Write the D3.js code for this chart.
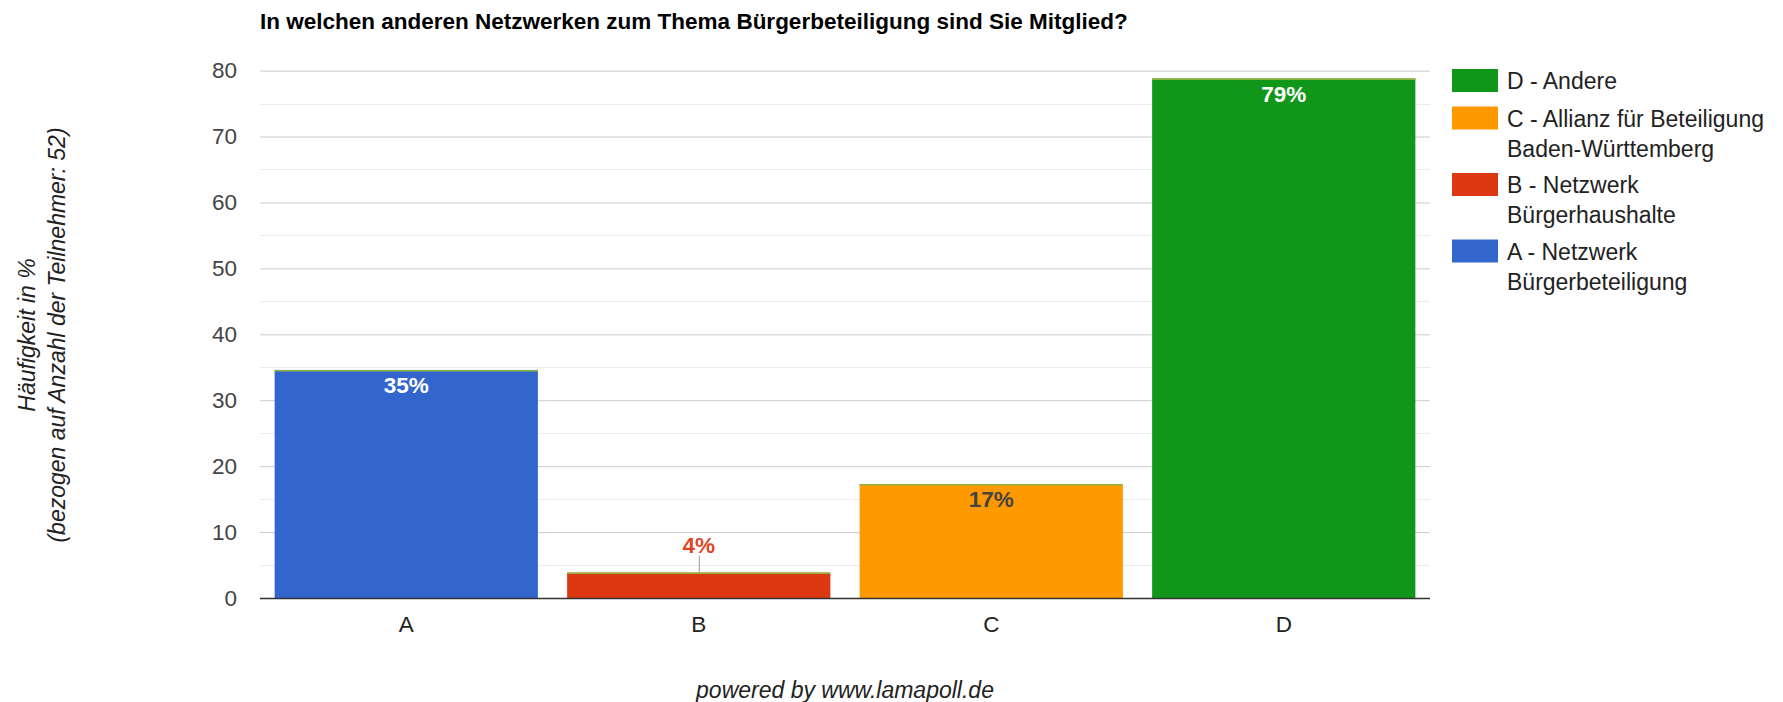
<!DOCTYPE html>
<html>
<head>
<meta charset="utf-8">
<script src="https://cdn.jsdelivr.net/npm/d3@7"></script>
<style>
  body { margin: 0; background: #fff; }
  svg { display: block; font-family: "Liberation Sans", Arial, sans-serif; }
</style>
</head>
<body>
<svg id="chart"></svg>
<script>
// Data (52 participants)
const categories = ['A', 'B', 'C', 'D'];
const values = [34.6, 3.85, 17.3, 78.8];
const valueLabels = ['35%', '4%', '17%', '79%'];
const legendLines = [
  ['A - Netzwerk', 'Bürgerbeteiligung'],
  ['B - Netzwerk', 'Bürgerhaushalte'],
  ['C - Allianz für Beteiligung', 'Baden-Württemberg'],
  ['D - Andere']
];
const colors = ['#3366cc', '#dc3912', '#ff9900', '#109618'];
const yTicks = [0, 10, 20, 30, 40, 50, 60, 70, 80];

const width = 1783, height = 702;
const margin = { top: 70.6, right: 353, bottom: 104, left: 260 };
const fontSize = 23;

const svg = d3.select('#chart')
  .attr('width', width)
  .attr('height', height)
  .attr('viewBox', [0, 0, width, height]);

const x = d3.scaleBand(categories, [margin.left, width - margin.right]).padding(0.1).paddingOuter(0.05);
const y = d3.scaleLinear([0, 80], [height - margin.bottom, margin.top]);

// Title
svg.append('text')
  .attr('x', 260)
  .attr('y', 29)
  .attr('font-size', 22.5)
  .attr('font-weight', 'bold')
  .attr('fill', '#000')
  .text('In welchen anderen Netzwerken zum Thema Bürgerbeteiligung sind Sie Mitglied?');

// Minor gridlines
svg.append('g')
  .selectAll('line')
  .data(d3.range(5, 80, 10))
  .join('line')
    .attr('x1', margin.left)
    .attr('x2', width - margin.right)
    .attr('y1', d => Math.round(y(d)) + 0.5)
    .attr('y2', d => Math.round(y(d)) + 0.5)
    .attr('stroke', '#ebebeb');

// Major gridlines + tick labels
const yAxis = svg.append('g')
  .attr('transform', `translate(${margin.left},0)`)
  .call(d3.axisLeft(y).tickValues(yTicks).tickSize(-(width - margin.left - margin.right)).tickPadding(23));
yAxis.select('.domain').remove();
yAxis.selectAll('.tick line').attr('stroke', '#cccccc');
yAxis.selectAll('.tick text')
  .attr('font-size', 22.5)
  .attr('fill', '#444')
  .attr('font-family', '"Liberation Sans", Arial, sans-serif');

// Bars
svg.append('g')
  .selectAll('rect')
  .data(categories)
  .join('rect')
    .attr('x', d => x(d))
    .attr('y', (d, i) => y(values[i]))
    .attr('width', x.bandwidth())
    .attr('height', (d, i) => y(0) - y(values[i]))
    .attr('fill', (d, i) => colors[i]);

// thin top edge (stacked zero series in original)
svg.append('g')
  .selectAll('line')
  .data(categories)
  .join('line')
    .attr('x1', d => x(d))
    .attr('x2', d => x(d) + x.bandwidth())
    .attr('y1', (d, i) => y(values[i]) + 0.75)
    .attr('y2', (d, i) => y(values[i]) + 0.75)
    .attr('stroke', '#8db33a')
    .attr('stroke-width', 1.5);

// Baseline
svg.append('line')
  .attr('x1', margin.left)
  .attr('x2', width - margin.right)
  .attr('y1', y(0) + 0.5)
  .attr('y2', y(0) + 0.5)
  .attr('stroke', '#333')
  .attr('stroke-width', 1.5);

// Value labels
const labelCfg = [
  { inside: true, fill: '#ffffff' },
  { inside: false, fill: '#e0452a' },
  { inside: true, fill: '#444444' },
  { inside: true, fill: '#ffffff' }
];
const lbl = svg.append('g');
categories.forEach((c, i) => {
  const cx = x(c) + x.bandwidth() / 2;
  const top = y(values[i]);
  const cfg = labelCfg[i];
  if (!cfg.inside) {
    lbl.append('line')
      .attr('x1', cx + 0.5).attr('x2', cx + 0.5)
      .attr('y1', top - 17).attr('y2', top)
      .attr('stroke', '#999');
  }
  lbl.append('text')
    .attr('x', cx)
    .attr('y', cfg.inside ? top + 23 : top - 20)
    .attr('text-anchor', 'middle')
    .attr('font-size', 22.5)
    .attr('font-weight', 'bold')
    .attr('fill', cfg.fill)
    .text(valueLabels[i]);
});

// X axis labels
const xAxis = svg.append('g')
  .attr('transform', `translate(0,${y(0)})`)
  .call(d3.axisBottom(x).tickSize(0).tickPadding(18));
xAxis.select('.domain').remove();
xAxis.selectAll('.tick text')
  .attr('font-size', 22.5)
  .attr('fill', '#222')
  .attr('font-family', '"Liberation Sans", Arial, sans-serif');

// Y axis title
const yTitle = svg.append('text')
  .attr('transform', `translate(0,335) rotate(-90)`)
  .attr('text-anchor', 'middle')
  .attr('font-size', fontSize)
  .attr('font-style', 'italic')
  .attr('fill', '#222');
yTitle.append('tspan').attr('x', 0).attr('y', 35).text('Häufigkeit in %');
yTitle.append('tspan').attr('x', 0).attr('y', 65).text('(bezogen auf Anzahl der Teilnehmer: 52)');

// Legend (reverse order)
const legend = svg.append('g');
let ly = 69;
[3, 2, 1, 0].forEach(i => {
  legend.append('rect')
    .attr('x', 1452)
    .attr('y', ly)
    .attr('width', 46)
    .attr('height', 23)
    .attr('fill', colors[i]);
  const t = legend.append('text')
    .attr('font-size', fontSize)
    .attr('fill', '#222');
  legendLines[i].forEach((line, k) => {
    t.append('tspan')
      .attr('x', 1507)
      .attr('y', ly + 20 + k * 30)
      .text(line);
  });
  ly += 37.5 + (legendLines[i].length - 1) * 29;
});

// Footer
svg.append('text')
  .attr('x', 845)
  .attr('y', 698)
  .attr('text-anchor', 'middle')
  .attr('font-size', fontSize)
  .attr('font-style', 'italic')
  .attr('fill', '#222')
  .text('powered by www.lamapoll.de');
</script>
</body>
</html>
